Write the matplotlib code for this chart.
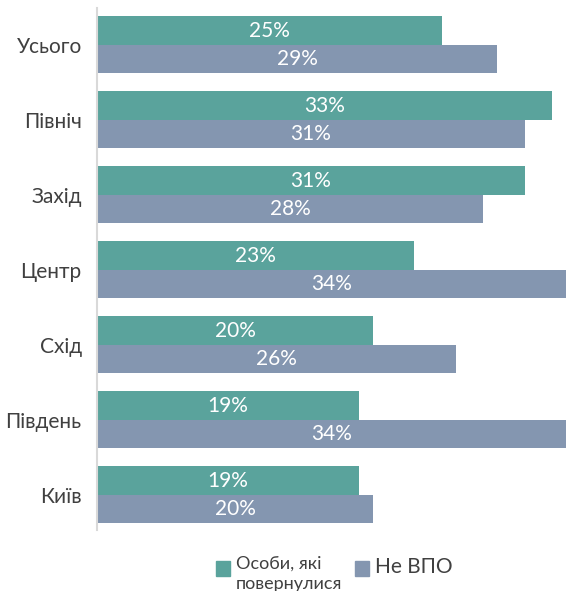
import numpy as np
import matplotlib
matplotlib.use('Agg')
import matplotlib.pyplot as plt
from matplotlib.patches import Rectangle

plt.rcParams['font.family'] = ['Lato', 'DejaVu Sans']

# ============================================================
# DATA
# ============================================================
regions = ['Усього', 'Північ', 'Захід', 'Центр', 'Схід', 'Південь', 'Київ']
returned = [25, 33, 31, 23, 20, 19, 19]      # Особи, які повернулися
non_idp = [29, 31, 28, 34, 26, 34, 20]       # Не ВПО

TEAL = '#5AA39C'
GREY = '#8496B0'
TEXT = '#404040'

W, H = 566, 591
fig = plt.figure(figsize=(W / 100, H / 100), dpi=100)
ax = fig.add_axes([97 / W, 1 - 530 / H, 469 / W, 522 / H])

y = np.arange(len(regions))
h = 0.38
ax.barh(y - h / 2, returned, height=h, color=TEAL)
ax.barh(y + h / 2, non_idp, height=h, color=GREY)

for yi, v in zip(y, returned):
    ax.text(v / 2, yi - h / 2, f'{v}%', ha='center', va='center',
            color='white', fontsize=15)
for yi, v in zip(y, non_idp):
    ax.text(v / 2, yi + h / 2, f'{v}%', ha='center', va='center',
            color='white', fontsize=15)

ax.set_xlim(0, 34)
ax.set_ylim(6.467, -0.493)
ax.set_yticks(y)
ax.set_yticklabels(regions, fontsize=15, color=TEXT)
ax.tick_params(axis='y', length=0, pad=11)
ax.set_xticks([])
for s in ['top', 'right', 'bottom']:
    ax.spines[s].set_visible(False)
ax.spines['left'].set_color('#D9D9D9')
ax.spines['left'].set_linewidth(1.5)

# Legend (drawn manually to match layout)
fig.patches.append(Rectangle((216 / W, 1 - 576 / H), 14 / W, 15 / H,
                             transform=fig.transFigure, color=TEAL))
fig.text(236 / W, 1 - 574 / H, 'Особи, які\nповернулися', fontsize=13,
         color=TEXT, va='center', ha='left', linespacing=1.3)
fig.patches.append(Rectangle((355 / W, 1 - 576 / H), 14 / W, 15 / H,
                             transform=fig.transFigure, color=GREY))
fig.text(375 / W, 1 - 567 / H, 'Не ВПО', fontsize=15,
         color=TEXT, va='center', ha='left')

fig.savefig('out.png', dpi=100)
